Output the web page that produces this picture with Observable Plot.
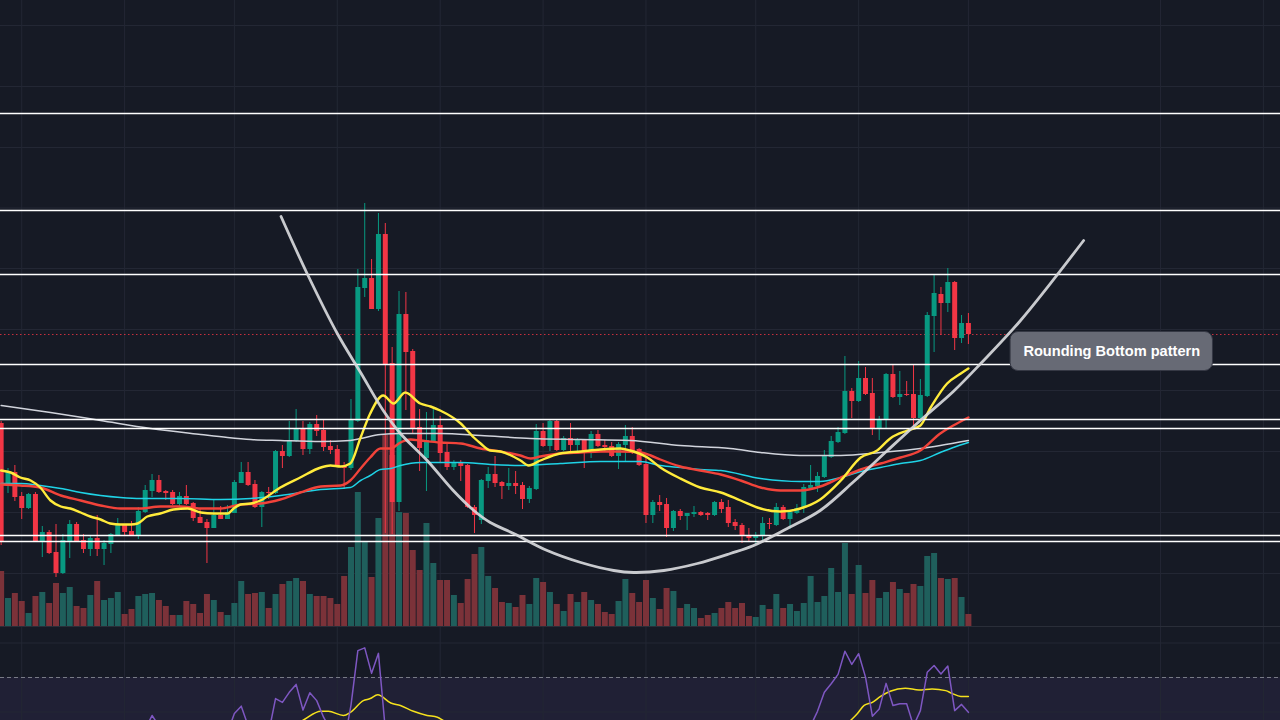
<!DOCTYPE html>
<html><head><meta charset="utf-8">
<script src="https://cdn.jsdelivr.net/npm/d3@7"></script>
<script src="https://cdn.jsdelivr.net/npm/@observablehq/plot@0.6"></script>
<style>
html,body{margin:0;padding:0;background:#161a25;}
#chart{position:relative;width:1280px;height:720px;overflow:hidden;background:#161a25;}
#chart svg{position:absolute;left:0;background:transparent !important;}
.sep{position:absolute;left:0;top:626px;width:1280px;height:1px;background:#2a2e39;}
</style></head><body><div id="chart"><div class="sep"></div></div>
<script>
// ---- data (price in chart units, one candle per index) ----
const openP = [273,213,224,200,188,202,155,164,144,123, 155,172,156,147,158,147,152,161,171,165,
  161,184,205,216,205,204,192,200,193,179, 174,168,181,177,183,213,224,212,189,204,
  203,245,240,255,268,247,272,266,250,247, 230,228,275,408,418,387,462,333,194,382,
  345,269,238,255,271,244,229,233,231,189, 176,215,222,214,210,213,211,197,207,265,
  250,275,246,258,251,256,243,262,251,250, 240,251,260,247,232,181,194,192,168,185,
  180,182,184,183,181,194,189,174,171,161, 158,160,173,171,189,177,183,188,208,210,
  219,239,254,263,305,295,318,303,267,277, 322,299,302,302,278,300,380,402,393,414, 358,373];
const closeP = [154,224,199,188,202,155,164,143,123,156, 172,155,147,158,147,153,162,172,164,161,
  185,206,216,204,203,192,200,192,178,173, 168,181,177,184,214,224,211,189,204,203,
  245,240,256,268,247,272,265,249,246,229, 228,277,409,418,387,462,332,194,382,344,
  268,248,256,271,243,229,234,230,189,181, 216,222,213,210,213,210,197,208,265,250,
  275,246,258,251,256,243,262,250,249,240, 252,260,243,231,181,194,191,168,185,180,
  183,184,181,181,194,187,173,170,160,158, 161,173,172,189,177,184,188,209,211,220,
  240,255,264,305,295,318,302,267,277,322, 299,302,301,278,301,381,403,393,414,358, 373,362];
const highP = [275,228,231,204,203,204,170,166,172,162, 176,174,162,161,181,156,163,178,172,175,
  189,211,222,221,206,206,204,211,194,187, 177,197,190,191,216,234,234,216,205,209,
  246,251,275,287,275,274,281,276,256,251, 234,297,427,493,437,483,473,349,405,404,
  347,287,284,289,280,253,236,236,232,191, 217,229,240,215,228,225,214,210,272,273,
  276,276,260,273,258,257,265,266,256,254, 254,271,269,248,240,196,201,198,186,187,
  183,190,185,184,195,197,196,177,173,168, 164,179,178,193,191,185,192,212,231,224,
  246,260,269,340,308,335,329,318,280,323, 331,325,315,332,317,384,422,409,428,415, 381,383];
const lowP = [151,203,195,177,187,154,139,142,119,122, 138,154,143,140,140,131,143,160,160,160,
  157,183,199,203,196,191,190,191,175,173, 133,168,177,177,183,213,210,188,169,197,
  202,228,239,254,241,242,260,245,242,229, 207,226,274,399,387,385,163,162,185,286,
  262,225,205,254,234,226,226,215,188,163, 172,208,209,197,206,202,187,193,206,249,
  245,245,245,245,242,228,238,249,245,239, 227,234,242,230,173,173,185,159,165,176,
  166,179,180,176,180,183,169,166,153,155, 152,154,167,170,176,167,182,183,206,204,
  218,238,253,262,278,294,301,261,256,268, 298,291,300,270,276,299,344,361,384,346, 353,352];
const volume = [55,28,33,25,13,30,34,23,43,33, 39,20,18,31,45,26,28,34,12,17,
  30,32,33,26,20,11,11,25,22,13, 32,26,14,11,23,45,32,33,34,18,
  32,42,45,48,45,32,30,30,28,22, 50,79,134,84,49,108,191,171,114,113,
  76,56,103,63,46,46,31,23,47,72, 79,50,38,24,23,19,31,22,48,44,
  34,22,15,32,24,34,26,22,14,12, 25,47,33,24,46,28,17,38,35,18,
  22,18,8,11,13,18,24,18,23,10, 9,21,17,32,18,22,15,23,50,24,
  30,58,34,83,32,61,33,46,28,34, 44,37,33,42,40,70,73,48,47,48, 29,12];
const rsi = [44,46,43,41,43,37,39,36,34,40, 43,40,39,41,39,40,42,45,44,43,
  49,55,59,56,55,52,53,51,48,47, 46,49,48,54,59.6,61.7,56,51,54,54,
  63.9,62.8,65.7,68,60.6,65.6,63.3,58.5,55,52, 51,62,77.8,78.6,71.2,77,55,44,56,53,
  47,45,47,49,46,44,45,44,40,39, 45,46,45,44,45,44,42,44,52,50,
  53,49,51,50,51,49,52,50,50,48, 50,52,49,47,39,42,41,37,41,40,
  41,41,41,41,44,42,39,38,36,36, 37,41,41,46,43,45,46,51,56,60.2,
  65.7,68.2,70.9,77.6,73.8,76.9,70.1,58.8,60.9,68.3, 61.9,62.4,62.4,56,60.4,71.5,73.5,71,73.3,60.4, 62.2,59.9];
// moving averages: [candle index, value]
const maYellow = [[0,226],[1.4,224],[2.8,219],[4.3,216],[5.7,209],[7.2,196],[8.7,190],[10.1,188],[11.6,184],[13,180],[14.5,177],[15.9,173],[17.4,172],[18.9,172],[19.9,173],[21.3,180],[23.2,183],[25.1,187],[27.2,188],[29.1,184],[31,183],[33,183],[33.9,188],[34.9,192],[36.4,193],[37.8,196],[40.7,209],[43.6,219],[46.6,229],[48,231],[49.5,230],[50.9,233],[52.4,259],[53.8,283],[55.7,301],[57.2,293],[58.9,304],[61.1,293],[62.6,290],[64,286],[67,273],[68.9,259],[69.9,253],[71.3,246],[72.8,245],[75.7,236],[76.9,231],[78.6,236],[81.5,243],[84.5,245],[87.4,247],[90.3,248],[91.7,246],[94.2,239],[96.1,229],[99,218],[101.9,209],[104.9,204],[107.8,196],[110.7,188],[113.6,185],[116.5,188],[119.4,197],[122.4,216],[125.3,239],[127.7,246],[129.6,258],[132.1,266],[134,271],[135.5,289],[137.9,313],[139.9,323],[141,328]];
const maRed = [[0,212],[2.8,211],[5.7,209],[8.7,201],[11.6,196],[14.5,191],[17.4,188],[20.3,188],[23.2,190],[26.1,190],[29.1,188],[32,188],[34.9,192],[37.8,193],[40.7,197],[43.6,204],[46.6,210],[49.5,211],[50.9,216],[52.4,228],[53.8,239],[55.3,248],[56.8,248],[58.2,254],[59.7,257],[61.1,256],[64,254],[67,253],[69.9,248],[72.8,245],[75.7,241],[77.2,238],[78.6,240],[81.5,243],[84.5,244],[87.4,245],[90.3,245],[93.2,244],[94.7,241],[96.1,237],[99,230],[101.9,226],[104.9,222],[107.8,216],[110.7,209],[113.6,206],[116.5,206],[119.4,210],[122.4,219],[125.3,227],[128.2,233],[131.1,239],[134,246],[136.9,263],[138.8,271],[141,279]];
const maCyan = [[0,213],[2.8,213],[5.7,211],[8.7,208],[11.6,204],[14.5,201],[17.4,199],[20.3,198],[26.1,198],[32,197],[36.4,198],[40.7,201],[46.6,207],[50.9,209],[52.4,216],[53.8,221],[55.3,227],[56.8,228],[58.2,231],[61.1,234],[67,234],[71.3,232],[75.7,231],[81.5,233],[87.4,235],[93.2,235],[96.1,231],[99,229],[101.9,227],[104.9,226],[110.7,218],[116.5,215],[119.4,215],[122.4,219],[125.3,225],[128.2,229],[131.1,233],[134,236],[136.9,244],[138.8,249],[141,254]];
const maWhite = [[0,291],[7.2,284],[14.5,276],[21.8,268],[29.1,262],[33,259],[36.4,257],[40.7,256],[46.6,255],[50.9,256],[52.4,258],[55.3,262],[58.2,263],[64,263],[69.9,261],[77.2,258],[84.5,257],[91.7,256],[99,251],[106.3,248],[110.7,244],[116.5,241],[122.4,241],[128.2,244],[134,248],[136.9,251],[141,256]];
const rsiMA = [[0,48],[10,44],[20,46],[30,50],[40,54],[43.9,57.5],[46.6,60.2],[47.7,60.2],[49.9,59],[50.9,59.9],[52.8,63.3],[53.8,63.9],[54.9,65],[56.8,62.6],[58.2,61.9],[60.1,60.2],[62.1,59],[63.6,58.5],[64.5,57.5],[70,53],[80,48],[90,49],[100,45],[110,40],[118,48],[123.8,57.5],[124.8,59.5],[125.8,61.9],[127,62.8],[128.2,64.5],[129.6,66],[131.8,66.9],[133.8,66.4],[135.7,66.7],[137.7,66.2],[138.6,65.4],[139.9,64.5],[141,64.5]];
// drawings
const levels = [583, 486, 422, 332, 277, 268, 161, 155];
const roundingCurve = [[40.8,480],[44.6,423],[49,363],[52.4,324],[55.7,286],[58.2,263],[62.1,236],[65.9,206],[68.9,186],[71.3,174],[74.7,163],[79.6,146],[84.5,134],[89.3,126],[92.2,124],[96.6,126],[101.5,133],[106.3,143],[109.7,151],[114.6,168],[119.4,186],[124.3,215],[129.2,246],[134,276],[138.8,305],[142.8,333],[148.6,376],[157.8,456]];
const label = {text: "Rounding Bottom pattern", i: 161.9, p: 345};
const priceGrid = [123, 184, 245, 306, 367, 428, 488.5, 549, 610, 671];
const timeGrid = [3, 18, 34, 49, 64, 79, 94, 110, 125, 141, 169, 184];
const rsiGrid = [60, 80];

// ---- build ----
const UP = "#089981", DOWN = "#f23645";
const VUP = "#1f5f5c", VDOWN = "#7b3239";
const GRID = "#232734";
const candles = openP.map((o, i) => ({i, open: o, close: closeP[i], high: highP[i], low: lowP[i], volume: volume[i], up: closeP[i] >= o}));
const lastClose = closeP[closeP.length - 1];
const xScale = {type: "linear", domain: [-0.0933, 186.496], axis: null};
const W = 1280, PH = 626;
const chart = document.getElementById("chart");
function place(svg, top) { svg.style.top = top + "px"; chart.appendChild(svg); }

// grid layer
place(Plot.plot({
  width: W, height: PH, margin: 0, x: xScale, y: {domain: [70, 696], axis: null},
  marks: [
    Plot.ruleY(priceGrid, {stroke: GRID, strokeWidth: 1}),
    Plot.ruleX(timeGrid, {stroke: GRID, strokeWidth: 1})
  ]
}), 0);

// volume layer
place(Plot.plot({
  width: W, height: PH, margin: 0, x: xScale, y: {domain: [0, 626], axis: null},
  color: {type: "identity"},
  marks: [
    Plot.ruleX(candles, {x: "i", y1: 0, y2: "volume", stroke: d => d.up ? VUP : VDOWN, strokeWidth: 6})
  ]
}), 0);

// price layer
place(Plot.plot({
  width: W, height: PH, margin: 0, x: xScale, y: {domain: [70, 696], axis: null},
  color: {type: "identity"},
  marks: [
    Plot.ruleY([lastClose], {stroke: DOWN, strokeWidth: 1, strokeDasharray: "1.5,2.5", strokeOpacity: 0.8}),
    Plot.ruleX(candles, {x: "i", y1: "low", y2: "high", stroke: d => d.up ? UP : DOWN, strokeWidth: 1}),
    Plot.ruleX(candles, {x: "i", y1: "open", y2: "close", stroke: d => d.up ? UP : DOWN, strokeWidth: 5}),
    Plot.line(maWhite, {x: d => d[0], y: d => d[1], stroke: "#d1d4dc", strokeWidth: 1.5, curve: "monotone-x"}),
    Plot.line(maCyan, {x: d => d[0], y: d => d[1], stroke: "#1fd3e6", strokeWidth: 1.5, curve: "monotone-x"}),
    Plot.line(maRed, {x: d => d[0], y: d => d[1], stroke: "#f2433a", strokeWidth: 2.4, curve: "monotone-x"}),
    Plot.line(maYellow, {x: d => d[0], y: d => d[1], stroke: "#ffeb3b", strokeWidth: 2.4, curve: "monotone-x"}),
    Plot.ruleY(levels, {stroke: "#ffffff", strokeWidth: 1.3}),
    Plot.line(roundingCurve, {x: d => d[0], y: d => d[1], stroke: "#d8d9dc", strokeWidth: 2.8, strokeOpacity: 0.92, curve: "catmull-rom"}),
    Plot.rect([label], {x1: d => d.i - 14.75, x2: d => d.i + 14.75, y1: d => d.p - 19.5, y2: d => d.p + 19.5, fill: "#676a75", stroke: "#353844", strokeWidth: 1, rx: 8}),
    Plot.text([label], {x: "i", y: "p", text: "text", fill: "#ffffff", fontSize: 14.6, fontWeight: "bold", fontFamily: "Liberation Sans, Arial, sans-serif"})
  ]
}), 0);

// RSI pane
place(Plot.plot({
  width: W, height: 93, margin: 0, x: xScale, y: {domain: [57.54, 84.49], axis: null},
  marks: [
    Plot.rect([0], {x1: -5, x2: 200, y1: 30, y2: 70, fill: "#7e57c2", fillOpacity: 0.1, clip: true}),
    Plot.ruleY(rsiGrid, {stroke: GRID, strokeWidth: 1}),
    Plot.ruleX(timeGrid, {stroke: GRID, strokeWidth: 1}),
    Plot.ruleY([70], {stroke: "#787b86", strokeWidth: 1, strokeDasharray: "4,3"}),
    Plot.line(rsiMA, {x: d => d[0], y: d => d[1], stroke: "#f5e11d", strokeWidth: 1.5, curve: "monotone-x", clip: true}),
    Plot.line(rsi.map((v, i) => [i, v]), {x: d => d[0], y: d => d[1], stroke: "#7e57c2", strokeWidth: 1.5, clip: true})
  ]
}), 627);
</script></body></html>
